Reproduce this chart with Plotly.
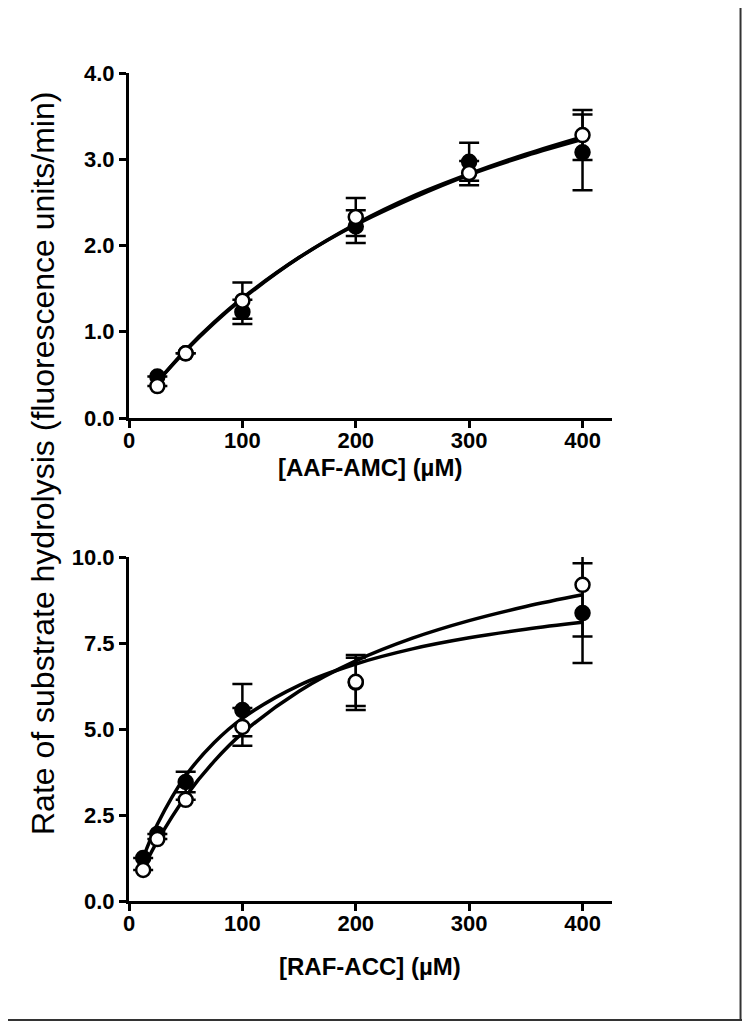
import plotly.graph_objects as go

# top panel: AAF-AMC (None = error bar hidden inside the symbol)
aaf_conc = [25, 50, 100, 200, 300, 400]
aaf_filled = [0.48, 0.75, 1.23, 2.22, 2.97, 3.08]
aaf_filled_sd = [None, None, 0.14, 0.19, 0.22, 0.44]
aaf_open = [0.37, 0.75, 1.36, 2.33, 2.84, 3.28]
aaf_open_sd = [None, None, 0.21, 0.22, 0.14, 0.29]

# fitted curves
aaf_fit_x = [25, 50, 75, 100, 150, 200, 250, 300, 350, 400]
aaf_fit_filled = [0.42, 0.79, 1.11, 1.39, 1.86, 2.24, 2.55, 2.82, 3.04, 3.23]
aaf_fit_open = [0.42, 0.78, 1.10, 1.38, 1.86, 2.25, 2.57, 2.83, 3.06, 3.26]

# bottom panel: RAF-ACC
raf_conc = [12.5, 25, 50, 100, 200, 400]
raf_filled = [1.25, 1.95, 3.46, 5.55, 6.35, 8.37]
raf_filled_sd = [None, None, 0.30, 0.76, 0.80, 1.45]
raf_open = [0.90, 1.80, 2.94, 5.06, 6.37, 9.19]
raf_open_sd = [None, None, None, 0.55, 0.70, 1.50]

raf_fit_x = [12.5, 25, 50, 75, 100, 150, 200, 250, 300, 350, 400]
raf_fit_filled = [1.26, 2.23, 3.64, 4.60, 5.31, 6.27, 6.89, 7.33, 7.65, 7.90, 8.10]
raf_fit_open = [0.94, 1.74, 3.04, 4.06, 4.88, 6.10, 6.98, 7.64, 8.15, 8.56, 8.90]

OFF = 8  # page body margin
W, H = 750 - 2 * OFF, 1029 - 2 * OFF
FONT = 'Arial, Liberation Sans, sans-serif'


# page pixel -> paper fraction
def px_x(v):
    return (v - OFF) / W


def px_y(v):
    return (H - (v - OFF)) / H


fig = go.Figure()


def add_panel(fig, xa, ya, conc, filled, filled_sd, opn, opn_sd, fit_x, fit_f, fit_o):
    for ys in (fit_f, fit_o):
        fig.add_trace(go.Scatter(
            x=fit_x, y=ys, mode='lines', line=dict(color='black', width=3.5, shape='spline'),
            xaxis=xa, yaxis=ya, showlegend=False, hoverinfo='skip',
        ))
    fig.add_trace(go.Scatter(
        x=conc, y=filled, mode='markers',
        marker=dict(symbol='circle', size=14, color='black', line=dict(color='black', width=2.5)),
        error_y=dict(type='data', array=filled_sd, color='black', thickness=2.5, width=10),
        xaxis=xa, yaxis=ya, showlegend=False,
    ))
    fig.add_trace(go.Scatter(
        x=conc, y=opn, mode='markers',
        marker=dict(symbol='circle', size=14, color='white', line=dict(color='black', width=2.5)),
        error_y=dict(type='data', array=opn_sd, color='black', thickness=2.5, width=10),
        xaxis=xa, yaxis=ya, showlegend=False,
    ))


add_panel(fig, 'x', 'y', aaf_conc, aaf_filled, aaf_filled_sd, aaf_open, aaf_open_sd,
          aaf_fit_x, aaf_fit_filled, aaf_fit_open)
add_panel(fig, 'x2', 'y2', raf_conc, raf_filled, raf_filled_sd, raf_open, raf_open_sd,
          raf_fit_x, raf_fit_filled, raf_fit_open)

axis_style = dict(
    showline=True, linecolor='black', linewidth=3, mirror=False,
    ticks='outside', ticklen=7, tickwidth=3, tickcolor='black',
    showgrid=False, zeroline=False, automargin=False,
    tickfont=dict(family=FONT, size=22, color='black', weight='bold'),
)

x_dom = [px_x(129), px_x(612)]
x_common = dict(range=[0, 426], tickvals=[0, 100, 200, 300, 400], ticklabelstandoff=-6)

fig.update_layout(
    template='none',
    width=W, height=H,
    paper_bgcolor='white', plot_bgcolor='white',
    margin=dict(l=0, r=0, t=0, b=0, pad=0, autoexpand=False),
    xaxis=dict(domain=x_dom, anchor='y', **x_common, **axis_style),
    yaxis=dict(domain=[px_y(418), px_y(73)], range=[0, 4],
               tickvals=[0, 1, 2, 3, 4], tickformat='.1f', anchor='x', **axis_style),
    xaxis2=dict(domain=x_dom, anchor='y2', **x_common, **axis_style),
    yaxis2=dict(domain=[px_y(901), px_y(557)], range=[0, 10],
                tickvals=[0, 2.5, 5, 7.5, 10], tickformat='.1f', anchor='x2', **axis_style),
    annotations=[
        dict(text='[AAF-AMC] (µM)', xref='paper', yref='paper', x=px_x(370), y=px_y(467),
             showarrow=False, xanchor='center', yanchor='middle',
             font=dict(family=FONT, size=24, color='black', weight='bold')),
        dict(text='[RAF-ACC] (µM)', xref='paper', yref='paper', x=px_x(370), y=px_y(966),
             showarrow=False, xanchor='center', yanchor='middle',
             font=dict(family=FONT, size=24, color='black', weight='bold')),
        dict(text='Rate of substrate hydrolysis (fluorescence units/min)',
             xref='paper', yref='paper', x=px_x(43), y=px_y(464), textangle=-90,
             showarrow=False, xanchor='center', yanchor='middle',
             font=dict(family=FONT, size=32, color='black')),
    ],
    # dark frame on the right and bottom edges
    shapes=[
        dict(type='line', xref='paper', yref='paper', x0=0.998, x1=0.998,
             y0=0, y1=1, line=dict(color='#333333', width=2)),
        dict(type='line', xref='paper', yref='paper', x0=0, x1=1,
             y0=0.001, y1=0.001, line=dict(color='#333333', width=2)),
    ],
)

fig.write_html("out.html")
